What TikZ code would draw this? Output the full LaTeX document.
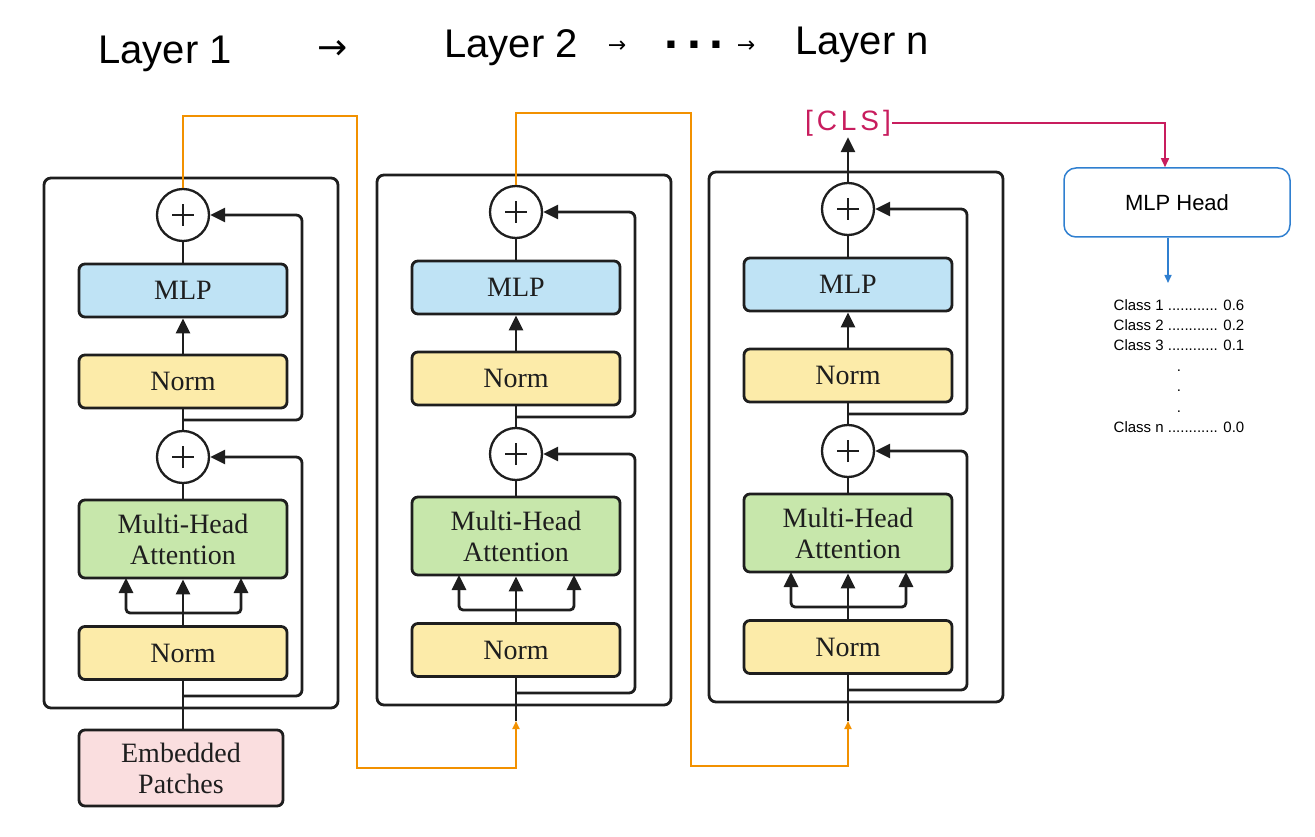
\documentclass[tikz,border=0pt]{standalone}
\usepackage{fontspec}
\setmainfont{Liberation Serif}
\newfontfamily\handfont{Liberation Sans}
\newfontfamily\clsfont{Liberation Sans}[LetterSpace=14]
\newfontfamily\dotsfont{Liberation Sans}[LetterSpace=18]
\newfontfamily\symfont{DejaVu Sans}
\usetikzlibrary{arrows.meta,calc}

\definecolor{mlpblue}{HTML}{BFE3F5}
\definecolor{normyellow}{HTML}{FCEBA9}
\definecolor{attgreen}{HTML}{C7E7AB}
\definecolor{patchpink}{HTML}{FADEDF}
\definecolor{wire}{HTML}{1E1E1E}
\definecolor{skipwire}{HTML}{F29100}
\definecolor{clsred}{HTML}{C81D5E}
\definecolor{headblue}{HTML}{2F7FD0}

\tikzset{
  layerframe/.style={draw=wire, line width=2.8pt, rounded corners=7pt,
    minimum width=294pt, minimum height=530pt, inner sep=0pt},
  layerbox/.style={draw=wire, line width=2.8pt, rounded corners=6pt,
    minimum width=208pt, minimum height=53pt, inner sep=0pt, text=wire,
    font=\fontsize{28}{31}\selectfont},
  adder/.style={circle, draw=wire, line width=2.3pt, fill=white,
    minimum size=52pt, inner sep=0pt,
    path picture={\draw[wire, line width=2.8pt]
      ($(path picture bounding box.center)+(-11pt,0pt)$) -- ++(22pt,0pt)
      ($(path picture bounding box.center)+(0pt,-11pt)$) -- ++(0pt,22pt);}},
  link/.style={draw=wire, line width=2.8pt},
  tip/.style={-{Triangle[length=15pt,width=14pt]}},
  orangewire/.style={draw=skipwire, line width=1.8pt,
    -{Triangle[length=8pt,width=7pt]}},
  hand/.style={font=\handfont\fontsize{40}{44}\selectfont, text=black},
}

% One transformer encoder layer; #1 name prefix, #2/#3 shift, #4 start of input stem
\newcommand{\encoderlayer}[4]{%
\begin{scope}[shift={(#2,#3)}]
  \node[layerframe] (#1frame) at (191,443) {};
  \node[adder] (#1addA) at (183,215) {};
  \node[layerbox, fill=mlpblue] (#1mlp) at (183,290.5) {MLP};
  \node[layerbox, fill=normyellow] (#1normA) at (183,381.5) {Norm};
  \node[adder] (#1addB) at (183,457) {};
  \node[layerbox, fill=attgreen, minimum height=78pt, align=center]
    (#1mha) at (183,539) {Multi-Head\\Attention};
  \node[layerbox, fill=normyellow] (#1normB) at (183,653) {Norm};
  \coordinate (#1in) at (183,#4);
  \coordinate (#1tapB) at (183,696);
  \coordinate (#1railB) at (302,696);
  \coordinate (#1tapA) at (183,420);
  \coordinate (#1railA) at (302,420);
  \coordinate (#1fork) at (183,613);
  \coordinate (#1qL) at (126,578);
  \coordinate (#1qR) at (241,578);
  % main stream
  \draw[link] (#1in) -- (#1normB.south);
  \draw[link] (#1normB.north) -- (#1fork);
  \draw[link, tip] (#1fork) -- (#1mha.south);
  \draw[link, tip, rounded corners=4pt] (#1fork) -| (#1qL);
  \draw[link, tip, rounded corners=4pt] (#1fork) -| (#1qR);
  \draw[link] (#1mha.north) -- (#1addB.south);
  \draw[link] (#1addB.north) -- (#1normA.south);
  \draw[link, tip] (#1normA.north) -- (#1mlp.south);
  \draw[link] (#1mlp.north) -- (#1addA.south);
  % residual connections
  \draw[link, tip, rounded corners=6pt] (#1tapB) -- (#1railB) |- (#1addB.east);
  \draw[link, tip, rounded corners=6pt] (#1tapA) -- (#1railA) |- (#1addA.east);
\end{scope}}

\begin{document}
\begin{tikzpicture}[x=1pt, y=-1pt]
  \useasboundingbox (0,0) rectangle (1315,837);

  % headings
  \node[hand] (t1) at (165,54) {Layer 1};
  \node[font=\symfont\fontsize{36}{40}\selectfont] (a1) at (333,50) {→};
  \node[hand] (t2) at (511,48) {Layer 2};
  \node[font=\symfont\fontsize{22}{26}\selectfont] (a2) at (617,47) {→};
  \node[font=\dotsfont\bfseries\fontsize{50}{54}\selectfont] (dd) at (694,45) {...};
  \node[font=\symfont\fontsize{22}{26}\selectfont] (a3) at (746,47) {→};
  \node[hand] (tn) at (862,45) {Layer n};

  % encoder layers
  \encoderlayer{Ea}{0}{0}{730}
  \encoderlayer{Eb}{333}{-3}{724}
  \encoderlayer{Ec}{665}{-6}{727}

  % patch embedding input
  \node[layerbox, fill=patchpink, minimum width=204pt, minimum height=76pt,
    align=center] (patches) at (181,768) {Embedded\\Patches};

  % hand-over from one layer to the next
  \coordinate (hopA1) at (357,116);
  \coordinate (hopA2) at (516,768);
  \draw[orangewire] (EaaddA.north) |- (hopA1) |- (hopA2) -- (Ebin);
  \coordinate (hopB1) at (691,113);
  \coordinate (hopB2) at (848,766);
  \draw[orangewire] (EbaddA.north) |- (hopB1) |- (hopB2) -- (Ecin);

  % classification token and head
  \node[font=\clsfont\fontsize{28}{30}\selectfont, text=clsred, inner sep=1pt]
    (cls) at (848,123) {[CLS]};
  \draw[link, tip] (EcaddA.north) -- (cls.south);
  \node[draw=headblue, line width=1.5pt, rounded corners=12pt,
    minimum width=226pt, minimum height=69pt,
    font=\handfont\fontsize{22}{24}\selectfont] (head) at (1177,202.5) {MLP Head};
  \coordinate (headin) at ($(head.north)+(-12,0)$);
  \draw[draw=clsred, line width=1.5pt, -{Triangle[length=9pt,width=8pt]}]
    (cls.east) -| (headin);
  \coordinate (headout) at ($(head.south)+(-9,0)$);
  \coordinate (scores) at (1168,283);
  \draw[draw=headblue, line width=1.5pt, -{Triangle[length=8pt,width=7pt]}]
    (headout) -- (scores);
  \node[font=\handfont\fontsize{15}{20.4}\selectfont, align=center] (classes)
    at (1179,366) {Class 1 ............ 0.6\\Class 2 ............ 0.2\\
    Class 3 ............ 0.1\\.\\.\\.\\Class n ............ 0.0};
\end{tikzpicture}
\end{document}
